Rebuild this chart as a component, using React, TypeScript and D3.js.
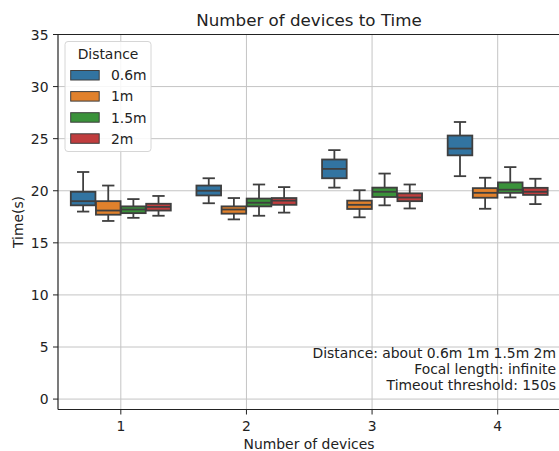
import React from "react";
import * as d3 from "d3";

const categories = ["1", "2", "3", "4"];
const hues = ["0.6m", "1m", "1.5m", "2m"];
const colors = ["#3274a1", "#e1812c", "#3a923a", "#c03d3e"];
// [whiskerLow, q1, median, q3, whiskerHigh] per category, per hue
const stats06 = [
  [18.0, 18.6, 19.0, 19.9, 21.8],
  [18.8, 19.55, 20.0, 20.5, 21.2],
  [20.3, 21.2, 22.1, 23.0, 23.9],
  [21.4, 23.4, 24.05, 25.3, 26.6],
];
const stats1 = [
  [17.1, 17.7, 18.1, 19.0, 20.5],
  [17.25, 17.8, 18.2, 18.5, 19.3],
  [17.45, 18.25, 18.65, 19.05, 20.05],
  [18.27, 19.33, 19.8, 20.25, 21.25],
];
const stats15 = [
  [17.4, 17.85, 18.2, 18.5, 19.2],
  [17.6, 18.5, 18.85, 19.25, 20.6],
  [18.6, 19.4, 19.9, 20.3, 21.65],
  [19.36, 19.8, 20.1, 20.8, 22.27],
];
const stats2 = [
  [17.6, 18.1, 18.45, 18.75, 19.5],
  [17.9, 18.65, 19.05, 19.3, 20.35],
  [18.3, 19.0, 19.35, 19.75, 20.6],
  [18.72, 19.6, 19.9, 20.28, 21.15],
];
const allStats = [stats06, stats1, stats15, stats2];
const yTicks = [0, 5, 10, 15, 20, 25, 30, 35];
const notes = ["Distance: about 0.6m 1m 1.5m 2m", "Focal length: infinite", "Timeout threshold: 150s"];

export default function App() {
  const W = 559, H = 451;
  const left = 58, right = 560.5, top = 34.5, bottom = 409.5;
  const x = d3.scaleBand().domain(categories).range([left, right]).paddingInner(0).paddingOuter(0);
  const y = d3.scaleLinear().domain([-1, 35]).range([bottom, top]);
  const hueScale = d3.scaleBand().domain(hues).range([-0.4, 0.4]);
  const bw = x.bandwidth();
  const line = "#3f3f3f";
  const font = "DejaVu Sans, sans-serif";
  const fs = 13.9;

  return (
    <svg width={W} height={H} style={{ position: "absolute", left: 0, top: 0, fontFamily: font }}>
      <rect x={0} y={0} width={W} height={H} fill="#fff" />
      <g>
        {categories.map((c) => {
          const cx = x(c)! + bw / 2;
          return <line key={c} x1={cx} x2={cx} y1={top} y2={bottom} stroke="#c4c4c4" strokeWidth={1} />;
        })}
        {yTicks.map((t) => (
          <line key={t} x1={left} x2={right} y1={y(t)} y2={y(t)} stroke="#c4c4c4" strokeWidth={1} />
        ))}
      </g>
      {categories.map((c, ci) => {
        const cx = x(c)! + bw / 2;
        return hues.map((h, hi) => {
          const s = allStats[hi][ci];
          const hx = cx + (hueScale(h)! + hueScale.bandwidth() / 2) * bw;
          const boxW = hueScale.bandwidth() * bw * 0.98;
          const capW = boxW / 2;
          return (
            <g key={c + h}>
              <line x1={hx} x2={hx} y1={y(s[3])} y2={y(s[4])} stroke={line} strokeWidth={1.8} />
              <line x1={hx} x2={hx} y1={y(s[1])} y2={y(s[0])} stroke={line} strokeWidth={1.8} />
              <line x1={hx - capW / 2} x2={hx + capW / 2} y1={y(s[4])} y2={y(s[4])} stroke={line} strokeWidth={1.8} />
              <line x1={hx - capW / 2} x2={hx + capW / 2} y1={y(s[0])} y2={y(s[0])} stroke={line} strokeWidth={1.8} />
              <rect x={hx - boxW / 2} y={y(s[3])} width={boxW} height={y(s[1]) - y(s[3])} fill={colors[hi]} stroke={line} strokeWidth={1.8} />
              <line x1={hx - boxW / 2} x2={hx + boxW / 2} y1={y(s[2])} y2={y(s[2])} stroke={line} strokeWidth={1.8} />
            </g>
          );
        });
      })}
      {/* spines */}
      <line x1={left} x2={left} y1={top} y2={bottom} stroke="#222" strokeWidth={1.2} />
      <line x1={left} x2={right} y1={bottom} y2={bottom} stroke="#222" strokeWidth={1.2} />
      <line x1={left} x2={right} y1={top} y2={top} stroke="#222" strokeWidth={1.2} />
      <line x1={right} x2={right} y1={top} y2={bottom} stroke="#222" strokeWidth={1.2} />
      {/* y ticks */}
      {yTicks.map((t) => (
        <g key={t}>
          <line x1={left - 5} x2={left} y1={y(t)} y2={y(t)} stroke="#222" strokeWidth={1} />
          <text x={left - 9.5} y={y(t)} dy="0.36em" textAnchor="end" fontSize={fs} fill="#222">{t}</text>
        </g>
      ))}
      {categories.map((c) => {
        const cx = x(c)! + bw / 2;
        return (
          <g key={c}>
            <line x1={cx} x2={cx} y1={bottom} y2={bottom + 5} stroke="#222" strokeWidth={1} />
            <text x={cx} y={bottom + 21} textAnchor="middle" fontSize={fs} fill="#222">{c}</text>
          </g>
        );
      })}
      <text x={309} y={449} textAnchor="middle" fontSize={fs} fill="#222">Number of devices</text>
      <text transform={`translate(23,${(top + bottom) / 2}) rotate(-90)`} textAnchor="middle" fontSize={fs} fill="#222">Time(s)</text>
      <text x={309} y={26} textAnchor="middle" fontSize={16.7} fill="#222">Number of devices to Time</text>
      {/* annotation */}
      {notes.map((n, i) => (
        <text key={n} x={556} y={357.7 + i * 16.3} textAnchor="end" fontSize={fs} fill="#222">{n}</text>
      ))}
      {/* legend */}
      <g>
        <rect x={65} y={41.5} width={86} height={110} rx={3} fill="#fff" fillOpacity={0.85} stroke="#d6d6d6" strokeWidth={1} />
        <text x={108} y={58.5} textAnchor="middle" fontSize={fs} fill="#222">Distance</text>
        {hues.map((h, i) => (
          <g key={h}>
            <rect x={70.7} y={70.5 + i * 21.1} width={28.5} height={9.5} fill={colors[i]} stroke={line} strokeWidth={1} />
            <text x={111} y={75.3 + i * 21.1} dy="0.36em" fontSize={fs} fill="#222">{h}</text>
          </g>
        ))}
      </g>
    </svg>
  );
}
